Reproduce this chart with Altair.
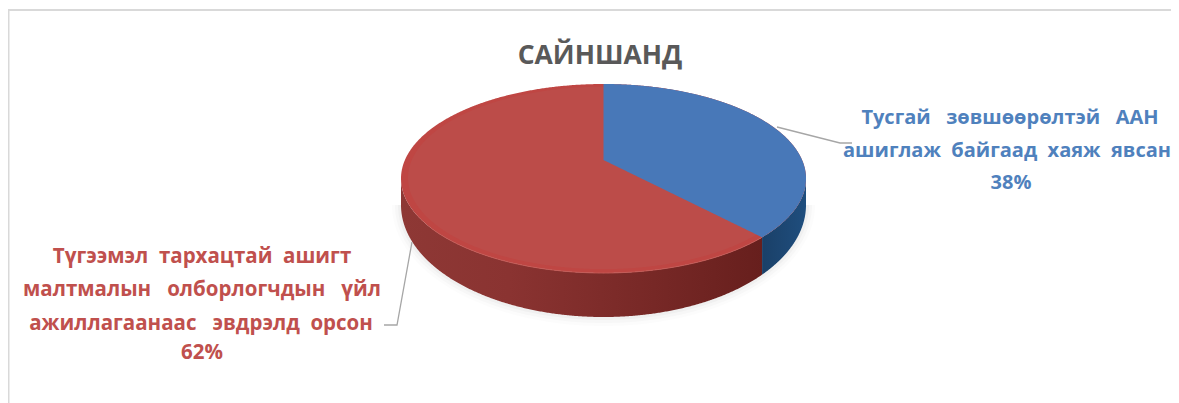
import numpy as np
import pandas as pd
import altair as alt

# ---- chart content ----
title_text = "САЙНШАНД"
categories = ["Тусгай зөвшөөрөлтэй ААН ашиглаж байгаад хаяж явсан",
              "Түгээмэл тархацтай ашигт малтмалын олборлогчдын үйл ажиллагаанаас эвдрэлд орсон"]
shares = [38, 62]
label_lines_blue = ["Тусгай\u00a0\u00a0 зөвшөөрөлтэй\u00a0\u00a0 ААН", "ашиглаж\u00a0 байгаад\u00a0 хаяж\u00a0 явсан", "38%"]
label_lines_red = ["Түгээмэл\u00a0 тархацтай\u00a0 ашигт", "малтмалын\u00a0\u00a0 олборлогчдын\u00a0\u00a0 үйл",
                   "ажиллагаанаас\u00a0\u00a0 эвдрэлд\u00a0 орсон", "62%"]

# ---- pie geometry (in the x/y scale's units) ----
apex_x, apex_y = 603.5, 160.0
top_reach, bottom_reach = 76.0, 113.0
half_width = 202.5
base_y, base_ry = 205.0, 112.0

k = (bottom_reach - top_reach) / (bottom_reach + top_reach)
b = top_reach * (1 + k)
a = half_width * np.sqrt(1 - k * k)


def rim(theta):
    # perspective view of a circle, theta clockwise from the top
    d = 1 + k * np.cos(theta)
    return apex_x + a * np.sin(theta) / d, apex_y - b * np.cos(theta) / d


theta_r = np.arccos(-k)
theta_l = 2 * np.pi - theta_r
t_up = np.linspace(theta_l - 2 * np.pi, theta_r, 1500)
up_x, up_y = rim(t_up)
t_low = np.linspace(theta_l, theta_r, 1500)
low_x, low_y = rim(t_low)


def upper(x):
    return np.interp(x, up_x, up_y)


def lower(x):
    return np.interp(x, low_x, low_y)


def base_curve(x, grow=0.0):
    u = np.clip((x - apex_x) / (half_width + grow), -1, 1)
    return base_y + (base_ry + grow) * np.sqrt(1 - u * u)


theta_end = 2 * np.pi * shares[0] / sum(shares)
end_x, end_y = rim(theta_end)
xmin, xmax = apex_x - half_width, apex_x + half_width
grid = apex_x + half_width * np.sin(np.linspace(-np.pi / 2, np.pi / 2, 500))


def band(xs, y0, y1):
    return pd.DataFrame({"x": xs, "y": y0, "y2": y1})


X = alt.X("x:Q", scale=alt.Scale(domain=[8, 1171], nice=False, zero=False), axis=None)
Y = alt.Y("y:Q", scale=alt.Scale(domain=[8, 403], reverse=True, nice=False, zero=False), axis=None)


def area(df, **mark):
    return alt.Chart(df).mark_area(**mark).encode(x=X, y=Y, y2="y2:Q")


def line(xs, ys, **mark):
    return alt.Chart(pd.DataFrame({"x": xs, "y": ys, "o": range(len(xs))})).mark_line(**mark).encode(
        x=X, y=Y, order="o:Q")


layers = []

# frame
layers.append(line([8.5, 8.5], [10, 403], color="#d9d9d9", strokeWidth=2))
layers.append(line([8, 1171], [10, 10], color="#d9d9d9", strokeWidth=2))

# soft shadow under the pie
for grow, op in [(9, 0.025), (6, 0.04), (3, 0.06)]:
    xs = apex_x + (half_width + grow) * np.sin(np.linspace(-np.pi / 2, np.pi / 2, 300))
    layers.append(area(band(xs, np.full_like(xs, 205.0), base_curve(xs, grow)), color="#808080", opacity=op))

# side wall
side_red = grid[grid <= end_x]
side_red = np.append(side_red, end_x)
side_blue = np.append(end_x, grid[grid > end_x])
layers.append(area(band(side_red, lower(side_red), base_curve(side_red)),
                   color=alt.Gradient(gradient="linear", x1=0, x2=1, y1=0, y2=0,
                                      stops=[alt.GradientStop(offset=0, color="#8e3835"),
                                             alt.GradientStop(offset=0.3, color="#8a3331"),
                                             alt.GradientStop(offset=0.7, color="#772826"),
                                             alt.GradientStop(offset=1, color="#671f1d")])))
layers.append(area(band(side_blue, lower(side_blue), base_curve(side_blue)),
                   color=alt.Gradient(gradient="linear", x1=0, x2=1, y1=0, y2=0,
                                      stops=[alt.GradientStop(offset=0, color="#1a4068"),
                                             alt.GradientStop(offset=1, color="#1f4e7e")])))

# top face: red full disc, blue wedge over it
layers.append(area(band(grid, upper(grid), lower(grid)), color="#bf4643"))
inner = apex_x + (half_width - 7) * np.sin(np.linspace(-np.pi / 2, np.pi / 2, 400))
shrink = (half_width - 7) / half_width
iy_u = apex_y + (upper(apex_x + (inner - apex_x) / shrink) - apex_y) * shrink
iy_l = apex_y + (lower(apex_x + (inner - apex_x) / shrink) - apex_y) * shrink
layers.append(area(band(inner, iy_u, iy_l), color="#bc4c49"))

wx = apex_x + (xmax - apex_x) * np.sin(np.linspace(0, np.pi / 2, 400))
wx = np.sort(np.append(wx, end_x))
wy = np.where(wx <= end_x, apex_y + (end_y - apex_y) * (wx - apex_x) / (end_x - apex_x), lower(wx))
layers.append(area(band(wx, upper(wx), wy), color="#4878b8"))

# rim highlight along the front of the disc
rim_x = grid[(grid <= end_x) & (grid >= xmin + 30)]
layers.append(line(rim_x, lower(rim_x), color="#c45a56", strokeWidth=1))

# leader lines
leader = "#a6a6a6"
layers.append(line([777, 840, 852], [127, 143, 143], color=leader, strokeWidth=1.3))
layers.append(line([384, 397, 412], [325, 325, 242], color=leader, strokeWidth=1.3))

# texts
font = "Open Sans"
title_df = pd.DataFrame({"x": [600], "y": [56], "t": [title_text]})
layers.append(alt.Chart(title_df).mark_text(font=font, fontWeight="bold", fontSize=26.5, color="#595959")
              .encode(x=X, y=Y, text="t:N"))
blue_df = pd.DataFrame({"x": [1010, 1007, 1011], "y": [118, 151, 183], "t": label_lines_blue})
layers.append(alt.Chart(blue_df).mark_text(font=font, fontWeight="bold", fontSize=20, color="#4f81bd")
              .encode(x=X, y=Y, text="t:N"))
red_df = pd.DataFrame({"x": [202, 202, 201, 202], "y": [257, 290, 324, 353], "t": label_lines_red})
layers.append(alt.Chart(red_df).mark_text(font=font, fontWeight="bold", fontSize=20.5, color="#c0504d")
              .encode(x=X, y=Y, text="t:N"))

chart = alt.layer(*layers).properties(
    width=1163, height=395, padding=0, autosize=alt.AutoSizeParams(type="none"), background="white"
).configure_view(stroke=None)

chart.save("out.html", embed_options={"renderer": "svg", "actions": False})
